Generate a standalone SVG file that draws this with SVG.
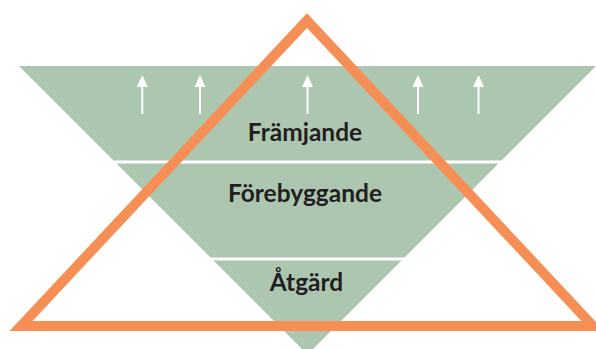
<svg xmlns="http://www.w3.org/2000/svg" width="596" height="349" viewBox="0 0 596 349">
  <style>
    .band { fill: #adc6b0; }
    .divider { stroke: #ffffff; stroke-width: 3; }
    .label { font-family: Lato, "Open Sans", "Liberation Sans", sans-serif; font-weight: 700; font-size: 24.5px; fill: #231f20; text-anchor: middle; }
    .frame { fill: none; stroke: #f68f55; stroke-width: 10; stroke-linejoin: miter; }
    .up { stroke: #ffffff; stroke-width: 2; }
  </style>
  <defs>
    <g id="arrow-up">
      <line class="up" x1="0" y1="86" x2="0" y2="114"/>
      <polygon points="0,75 -5.5,87 5.5,87" fill="#ffffff"/>
    </g>
  </defs>

  <!-- inverted funnel split in three levels -->
  <g id="funnel">
    <polygon class="band" points="19,66 596,66 307.5,354.5"/>
    <line class="divider" x1="110" y1="162" x2="505" y2="162"/>
    <line class="divider" x1="205" y1="259" x2="410" y2="259"/>
  </g>

  <!-- upward arrows in the top level -->
  <g id="arrows">
    <use href="#arrow-up" x="142.3"/>
    <use href="#arrow-up" x="200"/>
    <use href="#arrow-up" x="307.5"/>
    <use href="#arrow-up" x="418"/>
    <use href="#arrow-up" x="478.5"/>
  </g>

  <g id="level-framjande">
    <text class="label" x="305" y="141">Främjande</text>
  </g>
  <g id="level-forebyggande">
    <text class="label" x="305" y="201.5">Förebyggande</text>
  </g>
  <g id="level-atgard">
    <text class="label" x="306.5" y="290.5">Åtgärd</text>
  </g>

  <!-- orange outline triangle over the funnel -->
  <g id="frame">
    <polygon class="frame" points="307,20.5 21,326 593,326"/>
  </g>
</svg>
